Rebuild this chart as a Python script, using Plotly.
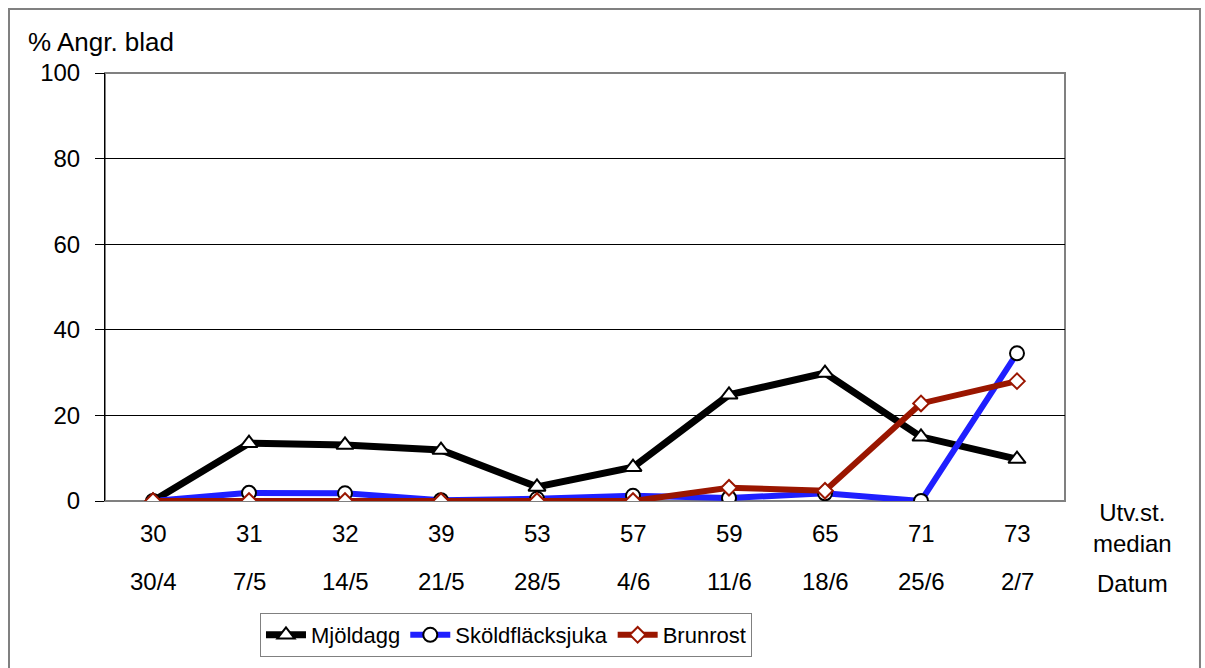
import plotly.graph_objects as go

# Development stage (median) and sampling date for each observation
stages = ["30", "31", "32", "39", "53", "57", "59", "65", "71", "73"]
dates = ["30/4", "7/5", "14/5", "21/5", "28/5", "4/6", "11/6", "18/6", "25/6", "2/7"]

# Percentage of attacked leaves per disease
mjoldagg = [0, 13.5, 13.1, 11.9, 3.3, 7.9, 24.8, 29.9, 15.0, 9.8]
skoldflacksjuka = [0, 1.9, 1.8, 0.2, 0.5, 1.2, 0.7, 1.8, 0, 34.5]
brunrost = [0, 0, 0, 0, 0, 0, 3.1, 2.4, 22.8, 28.0]

y_ticks = [0, 20, 40, 60, 80, 100]

FONT = "Liberation Sans, Arial, sans-serif"
RED = "#9a1600"
BLUE = "#1f1fff"
FS = 24

xs = list(range(len(stages)))

fig = go.Figure()
fig.add_trace(go.Scatter(
    x=xs, y=mjoldagg, name="Mjöldagg", mode="lines+markers",
    line=dict(color="black", width=7),
    marker=dict(symbol="triangle-up", size=15, color="white",
                line=dict(color="black", width=2)),
))
fig.add_trace(go.Scatter(
    x=xs, y=skoldflacksjuka, name="Sköldfläcksjuka", mode="lines+markers",
    line=dict(color=BLUE, width=6),
    marker=dict(symbol="circle", size=14, color="white",
                line=dict(color="black", width=2)),
))
fig.add_trace(go.Scatter(
    x=xs, y=brunrost, name="Brunrost", mode="lines+markers",
    line=dict(color=RED, width=6),
    marker=dict(symbol="diamond", size=12, color="white",
                line=dict(color=RED, width=2)),
))

annotations = []
# Two rows of category labels under the axis: stage, then date
for i, (s, d) in enumerate(zip(stages, dates)):
    annotations.append(dict(x=i, y=0, xref="x", yref="paper", text=s,
                            showarrow=False, yanchor="middle", yshift=-32,
                            font=dict(size=FS, color="black", family=FONT)))
    annotations.append(dict(x=i, y=0, xref="x", yref="paper", text=d,
                            showarrow=False, yanchor="middle", yshift=-80,
                            font=dict(size=FS, color="black", family=FONT)))

annotations += [
    dict(x=1.07, y=0, xref="paper", yref="paper", text="Utv.st.<br>median",
         showarrow=False, xanchor="center", yanchor="middle", yshift=-27,
         font=dict(size=FS, color="black", family=FONT)),
    dict(x=1.07, y=0, xref="paper", yref="paper", text="Datum",
         showarrow=False, xanchor="center", yanchor="middle", yshift=-82,
         font=dict(size=FS, color="black", family=FONT)),
    dict(x=-0.082, y=1.0724, xref="paper", yref="paper", text="% Angr. blad",
         showarrow=False, xanchor="left", yanchor="middle",
         font=dict(size=26, color="black", family=FONT)),
]

shapes = [
    # plot area frame
    dict(type="rect", xref="paper", yref="paper", x0=0, x1=1, y0=0, y1=1,
         line=dict(color="#808080", width=2), layer="between"),
    # outer chart frame
    dict(type="rect", xref="paper", yref="paper", x0=-0.1, x1=1.1406,
         y0=-0.45, y1=1.1495, line=dict(color="#808080", width=2)),
]

fig.update_layout(
    width=1205, height=668,
    margin=dict(l=105, r=140, t=73, b=167),
    paper_bgcolor="white", plot_bgcolor="white",
    font=dict(family=FONT, size=FS, color="black"),
    showlegend=True,
    legend=dict(orientation="h", x=0.4177, xanchor="center",
                yref="container", y=1 - 613 / 668, yanchor="top",
                bordercolor="#808080", borderwidth=1,
                font=dict(size=22, family=FONT), itemwidth=40,
                tracegroupgap=0, traceorder="normal"),
    annotations=annotations,
    shapes=shapes,
)
fig.update_xaxes(range=[-0.5, len(stages) - 0.5], showticklabels=False,
                 showgrid=False, zeroline=False, ticks="", showline=False)
fig.update_yaxes(range=[0, 100], tickvals=y_ticks, showgrid=True,
                 gridcolor="black", gridwidth=1, zeroline=False,
                 showline=True, linecolor="black", linewidth=1,
                 ticks="outside", ticklen=9, tickcolor="black",
                 ticklabelstandoff=10,
                 tickfont=dict(size=FS, family=FONT, color="black"))

fig.write_html("out.html")
